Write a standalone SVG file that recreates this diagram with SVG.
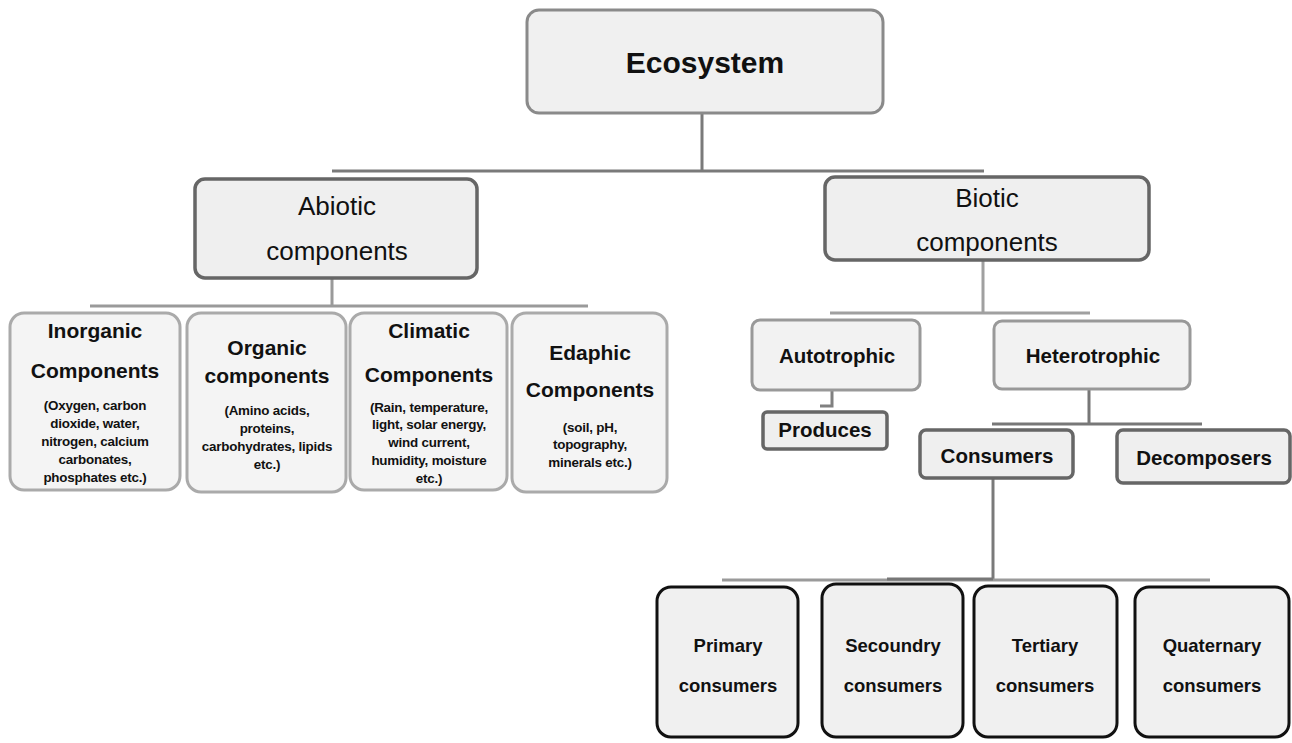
<svg xmlns="http://www.w3.org/2000/svg" width="1292" height="743" viewBox="0 0 1292 743">
  <style>
    text { font-family: "Liberation Sans", Arial, sans-serif; fill: #111; text-anchor: middle; }
    .title { font-size: 30px; font-weight: bold; }
    .major { font-size: 26px; }
    .head { font-size: 21px; font-weight: bold; }
    .small { font-size: 13.4px; font-weight: bold; letter-spacing: -0.2px; }
    .mid { font-size: 20.5px; font-weight: bold; }
    .leaf { font-size: 18.5px; font-weight: bold; }
    .box-root { fill: #f0f0f0; stroke: #8a8a8a; stroke-width: 3; }
    .box-major { fill: #efefef; stroke: #666; stroke-width: 3.5; }
    .box-factor { fill: #f4f4f4; stroke: #aaa; stroke-width: 3; }
    .box-troph { fill: #f2f2f2; stroke: #999; stroke-width: 3; }
    .box-role { fill: #efefef; stroke: #666; stroke-width: 3.5; }
    .box-level { fill: #f0f0f0; stroke: #111; stroke-width: 3; }
    .wire { fill: none; stroke-width: 3; }
  </style>

  <!-- connectors -->
  <g id="connectors">
    <path class="wire" stroke="#7a7a7a" d="M702 113 V171 M332 171 H984"/>
    <path class="wire" stroke="#9a9a9a" d="M332 278 V306 M90 306 H588"/>
    <path class="wire" stroke="#a0a0a0" d="M983 260 V313 M830 313 H1090"/>
    <path class="wire" stroke="#808080" d="M832 390 V406 H820"/>
    <path class="wire" stroke="#777" stroke-width="3.5" d="M1089 389 V424 M992 424 H1202"/>
    <path class="wire" stroke="#7a7a7a" d="M993 478 V580"/>
    <path class="wire" stroke="#9a9a9a" d="M722 580 H1210"/>
    <path class="wire" stroke="#777" stroke-width="4" d="M887 579 H993"/>
  </g>

  <!-- root -->
  <g id="ecosystem">
    <rect class="box-root" x="527" y="10" width="356" height="103" rx="12"/>
    <text class="title" x="705" y="73">Ecosystem</text>
  </g>

  <!-- abiotic branch -->
  <g id="abiotic">
    <rect class="box-major" x="195" y="179" width="282" height="99" rx="10"/>
    <text class="major" x="337" y="215">Abiotic</text>
    <text class="major" x="337" y="260">components</text>
  </g>

  <g id="inorganic">
    <rect class="box-factor" x="10" y="313" width="170" height="177" rx="14"/>
    <text class="head" x="95" y="338">Inorganic</text>
    <text class="head" x="95" y="378">Components</text>
    <text class="small" x="95" y="410">(Oxygen, carbon</text>
    <text class="small" x="95" y="428">dioxide, water,</text>
    <text class="small" x="95" y="446">nitrogen, calcium</text>
    <text class="small" x="95" y="464">carbonates,</text>
    <text class="small" x="95" y="482">phosphates  etc.)</text>
  </g>

  <g id="organic">
    <rect class="box-factor" x="187" y="313" width="159" height="179" rx="14"/>
    <text class="head" x="267" y="355">Organic</text>
    <text class="head" x="267" y="383">components</text>
    <text class="small" x="267" y="415">(Amino acids,</text>
    <text class="small" x="267" y="433">proteins,</text>
    <text class="small" x="267" y="451">carbohydrates, lipids</text>
    <text class="small" x="267" y="469">etc.)</text>
  </g>

  <g id="climatic">
    <rect class="box-factor" x="350" y="313" width="157" height="177" rx="14"/>
    <text class="head" x="429" y="338">Climatic</text>
    <text class="head" x="429" y="382">Components</text>
    <text class="small" x="429" y="412">(Rain, temperature,</text>
    <text class="small" x="429" y="429">light, solar energy,</text>
    <text class="small" x="429" y="447">wind current,</text>
    <text class="small" x="429" y="465">humidity, moisture</text>
    <text class="small" x="429" y="483">etc.)</text>
  </g>

  <g id="edaphic">
    <rect class="box-factor" x="512" y="313" width="155" height="179" rx="14"/>
    <text class="head" x="590" y="360">Edaphic</text>
    <text class="head" x="590" y="397">Components</text>
    <text class="small" x="590" y="432">(soil, pH,</text>
    <text class="small" x="590" y="449">topography,</text>
    <text class="small" x="590" y="467">minerals etc.)</text>
  </g>

  <!-- biotic branch -->
  <g id="biotic">
    <rect class="box-major" x="825" y="177" width="324" height="83" rx="10"/>
    <text class="major" x="987" y="207">Biotic</text>
    <text class="major" x="987" y="251">components</text>
  </g>

  <g id="autotrophic">
    <rect class="box-troph" x="752" y="320" width="168" height="70" rx="8"/>
    <text class="mid" x="837" y="363">Autotrophic</text>
  </g>

  <g id="produces">
    <rect class="box-role" x="763" y="412" width="124" height="37" rx="4" stroke="#777" stroke-width="3"/>
    <text class="mid" x="825" y="437">Produces</text>
  </g>

  <g id="heterotrophic">
    <rect class="box-troph" x="994" y="321" width="196" height="68" rx="8"/>
    <text class="mid" x="1093" y="363">Heterotrophic</text>
  </g>

  <g id="consumers">
    <rect class="box-role" x="920" y="430" width="153" height="48" rx="6"/>
    <text class="mid" x="997" y="463">Consumers</text>
  </g>

  <g id="decomposers">
    <rect class="box-role" x="1117" y="430" width="173" height="53" rx="6"/>
    <text class="mid" x="1204" y="465">Decomposers</text>
  </g>

  <!-- consumer levels -->
  <g id="primary">
    <rect class="box-level" x="657" y="587" width="141" height="150" rx="14"/>
    <text class="leaf" x="728" y="652">Primary</text>
    <text class="leaf" x="728" y="692">consumers</text>
  </g>

  <g id="secondary">
    <rect class="box-level" x="822" y="584" width="141" height="153" rx="14"/>
    <text class="leaf" x="893" y="652">Secoundry</text>
    <text class="leaf" x="893" y="692">consumers</text>
  </g>

  <g id="tertiary">
    <rect class="box-level" x="974" y="586" width="143" height="151" rx="14"/>
    <text class="leaf" x="1045" y="652">Tertiary</text>
    <text class="leaf" x="1045" y="692">consumers</text>
  </g>

  <g id="quaternary">
    <rect class="box-level" x="1135" y="587" width="154" height="150" rx="14"/>
    <text class="leaf" x="1212" y="652">Quaternary</text>
    <text class="leaf" x="1212" y="692">consumers</text>
  </g>
</svg>
